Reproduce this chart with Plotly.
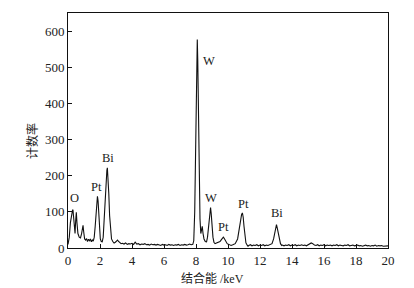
import plotly.graph_objects as go

energy_kev = [
    0.00, 0.08, 0.15, 0.22, 0.28, 0.31, 0.35, 0.40, 0.44, 0.48, 0.52, 0.56, 0.62, 0.70, 0.78, 0.85, 0.90, 0.94, 0.98,
    1.04, 1.10, 1.16, 1.22, 1.28, 1.34, 1.40, 1.46, 1.52, 1.58, 1.64, 1.70, 1.76, 1.80, 1.84, 1.88, 1.92, 1.97,
    2.02, 2.08, 2.14, 2.20, 2.26, 2.32, 2.38, 2.43, 2.46, 2.50, 2.55, 2.60, 2.66, 2.72, 2.80, 2.88, 2.96,
    3.04, 3.10, 3.16, 3.24, 3.32,
    3.4, 3.5, 3.6, 3.7, 3.8, 3.9, 4.0, 4.1, 4.2, 4.3, 4.4, 4.5, 4.6, 4.7, 4.8, 4.9, 5.0, 5.1, 5.2, 5.3, 5.4,
    5.5, 5.6, 5.7, 5.8, 5.9, 6.0, 6.1, 6.2, 6.3, 6.4, 6.5, 6.6, 6.7, 6.8, 6.9, 7.0, 7.1, 7.2, 7.3, 7.4, 7.5,
    7.6, 7.7, 7.8,
    7.86, 7.92, 7.97, 8.02, 8.06, 8.08, 8.11, 8.15, 8.20, 8.25, 8.30, 8.35, 8.39, 8.44, 8.50, 8.58, 8.66,
    8.72, 8.78, 8.84, 8.88, 8.91, 8.95, 9.00, 9.06, 9.12, 9.19, 9.28, 9.40, 9.50, 9.60, 9.67, 9.71, 9.76,
    9.84, 9.95, 10.05, 10.19, 10.30, 10.45, 10.60, 10.70, 10.78, 10.85, 10.90, 10.95, 11.00, 11.06, 11.12,
    11.20, 11.25,
    11.3, 11.4, 11.5, 11.6, 11.7, 11.8, 11.9, 12.0, 12.1, 12.2, 12.3, 12.4, 12.5, 12.6, 12.7,
    12.75, 12.85, 12.93, 12.98, 13.03, 13.08, 13.14, 13.20, 13.28, 13.36,
    13.4, 13.5, 13.6, 13.7, 13.8, 13.9, 14.0, 14.1, 14.2, 14.3, 14.4, 14.5, 14.6, 14.7, 14.8, 14.9, 15.0,
    15.1, 15.2, 15.3, 15.4, 15.5, 15.6, 15.7, 15.8, 15.9, 16.0, 16.1, 16.2, 16.3, 16.4, 16.5, 16.6, 16.7,
    16.8, 16.9, 17.0, 17.1, 17.2, 17.3, 17.4, 17.5, 17.6, 17.7, 17.8, 17.9, 18.0, 18.1, 18.2, 18.3, 18.4,
    18.5, 18.6, 18.7, 18.8, 18.9, 19.0, 19.1, 19.2, 19.3, 19.4, 19.5, 19.6, 19.7, 19.8, 19.9, 20.0,
]

counts = [
    10, 30, 70, 95, 104, 106, 85, 50, 40, 75, 99, 70, 40, 30, 28, 40, 55, 63, 45,
    25, 22, 26, 18, 24, 20, 25, 17, 22, 19, 30, 60, 110, 135, 143, 130, 95, 50,
    25, 18, 17, 30, 80, 150, 200, 215, 222, 200, 150, 90, 45, 25, 18, 14, 16,
    19, 22, 18, 14, 12,
    13, 11, 14, 10, 12, 11, 13, 10, 16, 11, 12, 9, 11, 10, 12, 9, 10, 8, 11, 9, 10,
    8, 10, 9, 7, 10, 8, 9, 7, 10, 8, 9, 7, 9, 8, 10, 7, 9, 8, 10, 8, 9,
    11, 9, 10,
    20, 100, 250, 450, 560, 577, 520, 380, 200, 80, 40, 50, 60, 40, 25, 18, 17,
    30, 55, 90, 108, 112, 95, 60, 30, 16, 12, 14, 16, 18, 24, 28, 30, 27,
    20, 12, 10, 7, 9, 12, 25, 50, 80, 93, 97, 85, 60, 30, 14,
    8, 5,
    7, 9, 6, 8, 7, 9, 6, 8, 7, 9, 6, 8, 7, 9, 10,
    12, 25, 45, 58, 65, 55, 40, 25, 12, 7,
    8, 6, 8, 7, 9, 6, 8, 7, 9, 6, 8, 7, 9, 7, 8, 6, 8,
    10, 14, 12, 8, 7, 9, 6, 8, 7, 9, 6, 8, 7, 8, 6, 8, 7,
    9, 6, 8, 7, 6, 8, 7, 9, 6, 7, 8, 6, 7, 8, 6, 7, 5,
    7, 8, 6, 7, 5, 7, 6, 8, 5, 7, 6, 7, 5, 6, 5, 6,
]

label_text = ["O", "Pt", "Bi", "W", "W", "Pt", "Pt", "Bi"]
label_x = [0.42, 1.80, 2.47, 8.83, 8.95, 9.73, 10.96, 13.05]
label_y = [139, 169, 248, 517, 139, 59, 121, 96]

x_ticks = [0, 2, 4, 6, 8, 10, 12, 14, 16, 18, 20]
y_ticks = [0, 100, 200, 300, 400, 500, 600]

x_title = "结合能 /keV"
y_title = "计数率"

serif = "Liberation Serif, Times New Roman, serif"
cjk = "Liberation Serif, Noto Sans CJK SC, sans-serif"

fig = go.Figure()
fig.add_trace(go.Scatter(
    x=energy_kev, y=counts, mode="lines",
    line=dict(color="#111111", width=1.1),
    showlegend=False, hoverinfo="skip",
))

for t, lx, ly in zip(label_text, label_x, label_y):
    fig.add_annotation(x=lx, y=ly, text=t, showarrow=False,
                       font=dict(family=serif, size=12.5, color="#222222"),
                       xanchor="center", yanchor="middle")

fig.add_annotation(xref="paper", yref="paper", x=0.453, y=-0.128, text=x_title,
                   showarrow=False, xanchor="center", yanchor="middle",
                   font=dict(family=cjk, size=12, color="#222222"))
fig.add_annotation(xref="paper", yref="paper", x=-0.1125, y=0.455, text=y_title,
                   showarrow=False, xanchor="center", yanchor="middle", textangle=-90,
                   font=dict(family=cjk, size=12, color="#222222"))

axis_common = dict(
    showline=True, linecolor="#111111", linewidth=1, mirror=True,
    ticks="inside", ticklen=4, tickwidth=1, tickcolor="#111111",
    showgrid=False, zeroline=False,
    tickfont=dict(family=serif, size=13, color="#222222"),
)

fig.update_xaxes(range=[0, 20], tickvals=x_ticks, **axis_common)
fig.update_yaxes(range=[0, 650], tickvals=y_ticks, **axis_common)

fig.update_layout(
    width=414, height=288,
    margin=dict(l=68, r=26, t=13, b=40),
    paper_bgcolor="white", plot_bgcolor="white",
)

fig.write_html("out.html", config={"displayModeBar": False},
               post_script="document.body.style.margin='0';document.body.style.overflow='hidden';")
